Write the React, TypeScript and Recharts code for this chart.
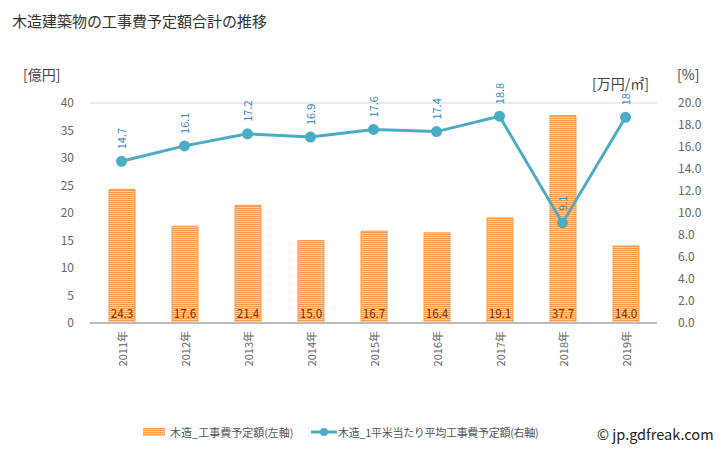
import React from "react";
import {
  ComposedChart,
  Bar,
  Line,
  XAxis,
  YAxis,
  CartesianGrid,
  LabelList,
} from "recharts";

const years = ["2011年", "2012年", "2013年", "2014年", "2015年", "2016年", "2017年", "2018年", "2019年"];
const costOku = [24.3, 17.6, 21.4, 15.0, 16.7, 16.4, 19.1, 37.7, 14.0];
const unitCost = [14.7, 16.1, 17.2, 16.9, 17.6, 17.4, 18.8, 9.1, 18.7];
const leftTicks = [0, 5, 10, 15, 20, 25, 30, 35, 40];
const rightTicks = [0, 2, 4, 6, 8, 10, 12, 14, 16, 18, 20];

const data = years.map((y, i) => ({ year: y, cost: costOku[i], unit: unitCost[i] }));

const FONT = '"Noto Sans CJK JP", "Noto Sans", sans-serif';
const LINE_COLOR = "#4BACC6";
const LABEL_BLUE = "#2E86C8";
const BAR_ORANGE = "#F9994A";
const BAR_LIGHT = "#FFCF9F";

function YearTick(props: any) {
  const { x, y, payload } = props;
  return (
    <text
      x={x}
      y={y}
      transform={`rotate(-90 ${x} ${y})`}
      textAnchor="end"
      dominantBaseline="central"
      fontSize={11}
      fill="#666"
      fontFamily={FONT}
    >
      {payload.value}
    </text>
  );
}

function BarValue(props: any) {
  const { x, y, width, height, value } = props;
  return (
    <text
      x={x + width / 2}
      y={y + height - 10}
      textAnchor="middle"
      dominantBaseline="central"
      fontSize={11.5}
      fill="#404040"
      fontFamily={FONT}
    >
      {Number(value).toFixed(1)}
    </text>
  );
}

function LineValue(props: any) {
  const { x, y, value } = props;
  const ly = y - 12;
  return (
    <text
      x={x}
      y={ly}
      transform={`rotate(-90 ${x} ${ly})`}
      textAnchor="start"
      dominantBaseline="central"
      fontSize={11}
      fill={LABEL_BLUE}
      fontFamily={FONT}
    >
      {Number(value).toFixed(1)}
    </text>
  );
}

const tickStyle = { fontSize: 12, fill: "#666", fontFamily: FONT };

export default function App() {
  return (
    <div style={{ position: "absolute", left: 0, top: 0, width: 728, height: 450, background: "#fff", fontFamily: FONT }}>
      <div style={{ position: "absolute", left: 12, top: 10, fontSize: 15, color: "#333" }}>
        木造建築物の工事費予定額合計の推移
      </div>
      <div style={{ position: "absolute", left: 23, top: 64, fontSize: 14, color: "#444" }}>[億円]</div>
      <div style={{ position: "absolute", left: 677, top: 64, fontSize: 14, color: "#444" }}>[%]</div>
      <ComposedChart
        width={728}
        height={450}
        data={data}
        margin={{ top: 103, right: 0, bottom: 70, left: 0 }}
      >
        <defs>
          <pattern id="stripes" width="4" height="2" patternUnits="userSpaceOnUse">
            <rect width="4" height="2" fill={BAR_LIGHT} />
            <rect width="4" height="1" fill={BAR_ORANGE} />
          </pattern>
        </defs>
        <CartesianGrid vertical={false} stroke="#d9d9d9" />
        <XAxis
          dataKey="year"
          tick={<YearTick />}
          tickLine={false}
          axisLine={{ stroke: "#bbb", strokeWidth: 2 }}
          height={57}
          interval={0}
        />
        <YAxis
          yAxisId="left"
          domain={[0, 40]}
          ticks={leftTicks}
          width={90}
          tickLine={false}
          axisLine={false}
          tickMargin={10}
          tick={tickStyle}
        />
        <YAxis
          yAxisId="right"
          orientation="right"
          domain={[0, 20]}
          ticks={rightTicks}
          width={71}
          tickLine={false}
          axisLine={false}
          tickMargin={15}
          tick={tickStyle}
          tickFormatter={(v: number) => v.toFixed(1)}
        />
        <Bar
          yAxisId="left"
          dataKey="cost"
          barSize={26}
          fill="url(#stripes)"
          stroke={BAR_ORANGE}
          strokeWidth={1}
          isAnimationActive={false}
        >
          <LabelList dataKey="cost" content={<BarValue />} />
        </Bar>
        <Line
          yAxisId="right"
          dataKey="unit"
          stroke={LINE_COLOR}
          strokeWidth={3}
          dot={{ r: 4, fill: LINE_COLOR, stroke: LINE_COLOR }}
          isAnimationActive={false}
        >
          <LabelList dataKey="unit" content={<LineValue />} />
        </Line>
      </ComposedChart>
      <div style={{ position: "absolute", left: 592, top: 74, fontSize: 14, color: "#444", background: "#fff", lineHeight: "18px" }}>
        [万円/㎡]
      </div>
      <div style={{ position: "absolute", left: 0, top: 423, width: 728, height: 20, fontSize: 11, color: "#555" }}>
        <svg style={{ position: "absolute", left: 143, top: 5 }} width={22} height={8}>
          <rect width={22} height={8} fill={BAR_LIGHT} />
          <rect x={0} y={0} width={22} height={1} fill={BAR_ORANGE} />
          <rect x={0} y={2} width={22} height={1} fill={BAR_ORANGE} />
          <rect x={0} y={4} width={22} height={1} fill={BAR_ORANGE} />
          <rect x={0} y={6} width={22} height={1} fill={BAR_ORANGE} />
        </svg>
        <span style={{ position: "absolute", left: 170, top: 1 }}>木造_工事費予定額(左軸)</span>
        <svg style={{ position: "absolute", left: 311, top: 3 }} width={26} height={12}>
          <line x1={0} y1={6} x2={26} y2={6} stroke={LINE_COLOR} strokeWidth={3} />
          <circle cx={13} cy={6} r={4} fill={LINE_COLOR} />
        </svg>
        <span style={{ position: "absolute", left: 338, top: 1, letterSpacing: -0.3 }}>木造_1平米当たり平均工事費予定額(右軸)</span>
        <span style={{ position: "absolute", left: 597, top: 0, fontSize: 14.5, color: "#222" }}>© jp.gdfreak.com</span>
      </div>
    </div>
  );
}
